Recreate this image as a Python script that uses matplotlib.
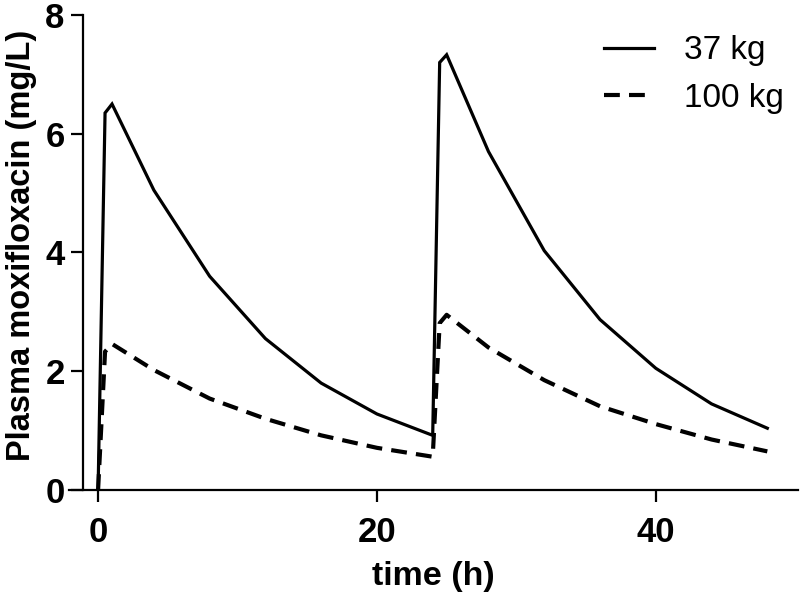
import matplotlib
matplotlib.use("Agg")
import matplotlib.pyplot as plt

# Data
t = [0, 0.5, 1, 4, 8, 12, 16, 20, 24, 24.5, 25, 28, 32, 36, 40, 44, 48]
c37 = [0, 6.35, 6.5, 5.05, 3.6, 2.55, 1.8, 1.28, 0.92, 7.2, 7.33, 5.7, 4.03, 2.87, 2.05, 1.45, 1.04]
c100 = [0, 2.33, 2.46, 2.02, 1.54, 1.2, 0.92, 0.71, 0.56, 2.81, 2.95, 2.4, 1.85, 1.41, 1.11, 0.85, 0.65]
labels = ["37 kg", "100 kg"]
xticks = [0, 20, 40]
yticks = [0, 2, 4, 6, 8]

FONT = "Liberation Sans"

fig = plt.figure(figsize=(8.0, 5.99), dpi=100)
ax = fig.add_axes([0.086, 0.182, 0.9115, 0.793])

ax.plot(t, c37, color="black", lw=2.3, solid_joinstyle="miter", label=labels[0])
ax.plot(t, c100, color="black", lw=3.0, dashes=(3.8, 2.2), label=labels[1])

ax.set_xlim(-2.1, 50.2)
ax.set_ylim(0, 8)
ax.spines["top"].set_visible(False)
ax.spines["right"].set_visible(False)
ax.spines["left"].set_position(("data", -1.05))
ax.spines["left"].set_bounds(0, 8)
for s in ("left", "bottom"):
    ax.spines[s].set_linewidth(1.6)

ax.set_xticks(xticks)
ax.set_yticks(yticks)
ax.tick_params(direction="out", length=8.5, width=1.6)
ax.tick_params(axis="x", pad=10)
ax.tick_params(axis="y", pad=5)
for lab in ax.get_xticklabels() + ax.get_yticklabels():
    lab.set_fontfamily(FONT)
    lab.set_fontweight("bold")
    lab.set_fontsize(25)

ax.set_xlabel("time (h)", fontfamily=FONT, fontweight="bold", fontsize=24.5, labelpad=9)
ax.set_ylabel("Plasma moxifloxacin (mg/L)", fontfamily=FONT, fontweight="bold", fontsize=23.5)
ax.yaxis.set_label_coords((37 - 69) / 729.2, 0.516)

leg = ax.legend(loc="upper right", bbox_to_anchor=(1.022, 1.02), frameon=False,
                prop={"family": FONT, "size": 24}, handlelength=1.5,
                handletextpad=0.9, labelspacing=0.5)

fig.savefig("out.png", dpi=100)
